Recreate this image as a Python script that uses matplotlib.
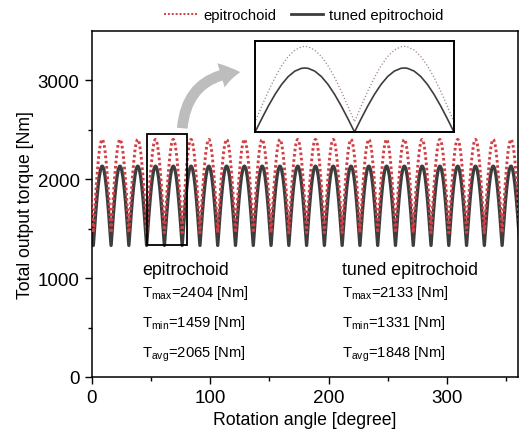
import numpy as np
import matplotlib
matplotlib.use("Agg")
import matplotlib.pyplot as plt
from matplotlib.patches import Rectangle, FancyArrowPatch

plt.rcParams['font.family'] = ['Liberation Sans', 'DejaVu Sans']
plt.rcParams['mathtext.fontset'] = 'custom'
plt.rcParams['mathtext.rm'] = 'Liberation Sans'

# one torque period (15 deg)
period_angle = [0, 1, 2, 3, 4, 5, 6, 7, 7.5, 8, 9, 10, 11, 12, 13, 14, 15]
epi_period = [1459, 1655, 1843, 2014, 2161, 2277, 2358, 2399, 2404,
              2399, 2358, 2277, 2161, 2014, 1843, 1655, 1459]
tuned_period = [1331, 1498, 1657, 1802, 1927, 2026, 2094, 2129, 2133,
                2129, 2094, 2026, 1927, 1802, 1657, 1498, 1331]
n_periods = 24
phase_deg = 1.5

labels = ['epitrochoid', 'tuned epitrochoid']
t_max = [2404, 2133]
t_min = [1459, 1331]
t_avg = [2065, 1848]

red = '#d23f45'
dark = '#3d3d3d'

# repeat the period over one revolution
ang = np.concatenate([np.array(period_angle[:-1]) + 15 * k for k in range(-1, n_periods + 1)]) + phase_deg
epi = np.tile(epi_period[:-1], n_periods + 2)
tuned = np.tile(tuned_period[:-1], n_periods + 2)

fig = plt.figure(figsize=(5.26, 4.39), dpi=100)
ax = fig.add_axes([0.174, 0.139, 0.811, 0.788])

ax.plot(ang, tuned, color=dark, lw=2.4, zorder=2)
ax.plot(ang, epi, color=red, lw=2.1, ls=(0, (0.9, 0.9)), zorder=3)

ax.set_xlim(0, 360)
ax.set_ylim(0, 3500)
ax.set_xticks([0, 100, 200, 300])
ax.set_xticks(np.arange(50, 360, 100), minor=True)
ax.set_yticks([0, 1000, 2000, 3000])
ax.set_yticks([500, 1500, 2500], minor=True)
ax.tick_params(which='major', direction='out', length=5, labelsize=13.5, width=1)
ax.tick_params(which='minor', direction='out', length=3, width=1)
ax.set_xlabel('Rotation angle [degree]', fontsize=12.7, labelpad=4)
ax.set_ylabel('Total output torque [Nm]', fontsize=12.7, labelpad=3)
for s in ax.spines.values():
    s.set_linewidth(1.1)

# zoom box
ax.add_patch(Rectangle((46.5, 1332), 33.9, 1122, fill=False, ec='black', lw=1.3, zorder=5))

# stats text
for x0, i in [(42.6, 0), (211, 1)]:
    ax.text(x0, 1037, labels[i], fontsize=12.8)
    ax.text(x0, 824, r'T$_{\mathrm{max}}$=%d [Nm]' % t_max[i], fontsize=10.6)
    ax.text(x0, 519, r'T$_{\mathrm{min}}$=%d [Nm]' % t_min[i], fontsize=10.6)
    ax.text(x0, 214, r'T$_{\mathrm{avg}}$=%d [Nm]' % t_avg[i], fontsize=10.6)

# legend handles (thinner than the plotted lines)
h_epi, = ax.plot([], [], color=red, lw=1.4, ls=(0, (1, 1)), label=labels[0])
h_tuned, = ax.plot([], [], color=dark, lw=2.0, label=labels[1])
fig.legend(handles=[h_epi, h_tuned], loc='upper center', bbox_to_anchor=(0.578, 1.01),
           ncol=2, frameon=False, fontsize=10.7, handlelength=2.2,
           columnspacing=1.0, handletextpad=0.4)

# inset
ins = fig.add_axes([0.485, 0.697, 0.378, 0.208])
ins.plot(ang, tuned, color=dark, lw=1.2)
ins.plot(ang, epi, color='#a58585', lw=0.9, ls=':')
ins.set_xlim(46.5, 76.5)
ins.set_ylim(1331, 2475)
ins.set_xticks([])
ins.set_yticks([])
for s in ins.spines.values():
    s.set_linewidth(1.4)

# curved grey arrow
arr = FancyArrowPatch((182 / 526, 1 - 132 / 439), (243 / 526, 1 - 73 / 439),
                      transform=fig.transFigure, connectionstyle='arc3,rad=-0.45',
                      arrowstyle='simple,head_width=1.3,head_length=1.0,tail_width=0.55',
                      mutation_scale=14, color='#bdbdbd', lw=0)
fig.patches.append(arr)

fig.savefig('out.png', dpi=100)
